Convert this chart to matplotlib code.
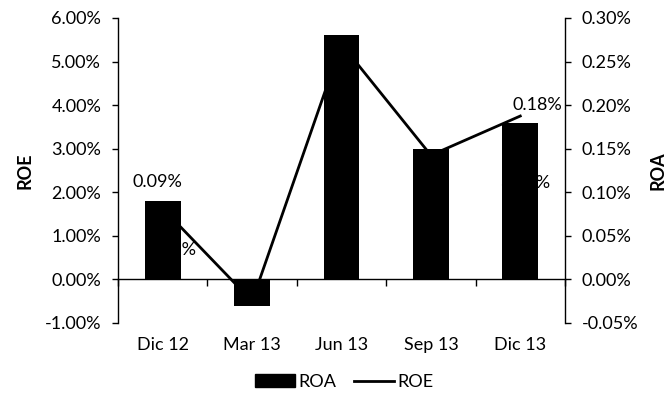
import matplotlib
matplotlib.use("Agg")
import matplotlib.pyplot as plt
from matplotlib.patches import Patch
from matplotlib.lines import Line2D
import numpy as np

plt.rcParams['font.family'] = ['Lato', 'DejaVu Sans']
plt.rcParams['font.size'] = 13

# data
periods = ['Dic 12', 'Mar 13', 'Jun 13', 'Sep 13', 'Dic 13']
roa = [0.09, -0.03, 0.28, 0.15, 0.18]      # % (right axis, bars)
roe = [1.63, -0.50, 5.40, 2.85, 3.75]      # % (left axis, line)
roe_ticks = [-1, 0, 1, 2, 3, 4, 5, 6]
roa_ticks = [-0.05, 0, 0.05, 0.10, 0.15, 0.20, 0.25, 0.30]

# labels that show in the picture: (index, text, offset in points)
roa_labels = [(0, '0.09%', (-4, 8)), (4, '0.18%', (12, 7))]
roe_labels = [(0, '1.63%', (24, -30)), (4, '3.75%', (21.5, -48))]

fig = plt.figure(figsize=(6.69, 3.99), dpi=100)
ax1 = fig.add_axes([0.1764, 0.1905, 0.6681, 0.7644])
ax2 = ax1.twinx()

x = np.arange(len(periods))

# ROE line on the left axis
ax1.plot(x, roe, color='black', lw=2.0, zorder=2)
for i, txt, off in roe_labels:
    ax1.annotate(txt, (x[i], roe[i]), xytext=off, textcoords='offset points',
                 ha='right', va='center')

# ROA bars on the right axis (drawn above the line)
ax2.bar(x, roa, width=0.4, color='black', zorder=3)
for i, txt, off in roa_labels:
    ax2.annotate(txt, (x[i], roa[i]), xytext=off, textcoords='offset points',
                 ha='center', va='bottom')

ax1.set_xlim(-0.5, len(periods) - 0.5)
ax1.set_ylim(-1, 6)
ax2.set_ylim(-0.05, 0.30)
ax1.set_yticks(roe_ticks)
ax1.set_yticklabels(['%.2f%%' % v for v in roe_ticks])
ax2.set_yticks(roa_ticks)
ax2.set_yticklabels(['%.2f%%' % v for v in roa_ticks])

for ax in (ax1, ax2):
    ax.spines['top'].set_visible(False)
    ax.tick_params(axis='y', length=4, width=1, direction='out', pad=8)
ax2.spines['bottom'].set_visible(False)
ax2.spines['left'].set_visible(False)
ax1.spines['right'].set_visible(False)
ax2.spines['right'].set_linewidth(1)
ax1.spines['left'].set_linewidth(1)

# zero line with ticks between categories
ax1.spines['bottom'].set_position(('data', 0))
ax1.spines['bottom'].set_linewidth(1)
ax1.set_xticks(np.arange(len(periods) + 1) - 0.5)
ax1.set_xticklabels([])
ax1.tick_params(axis='x', length=5, width=1, direction='out')

# category names at the bottom of the plot
sec = ax1.secondary_xaxis(0.0)
sec.set_xticks(x)
sec.set_xticklabels(periods)
sec.tick_params(length=0, pad=10)
sec.spines['bottom'].set_visible(False)

ax1.set_ylabel('ROE', fontweight='bold', labelpad=8)
ax2.set_ylabel('ROA', fontweight='bold', labelpad=8)

handles = [Patch(facecolor='black', edgecolor='black'),
           Line2D([0], [0], color='black', lw=2.0)]
fig.legend(handles, ['ROA', 'ROE'], loc='center', bbox_to_anchor=(0.515, 0.043),
           ncol=2, frameon=False, handlelength=2.2, handleheight=0.65,
           handletextpad=0.2, columnspacing=1.0)

fig.savefig('out.png', dpi=100)
